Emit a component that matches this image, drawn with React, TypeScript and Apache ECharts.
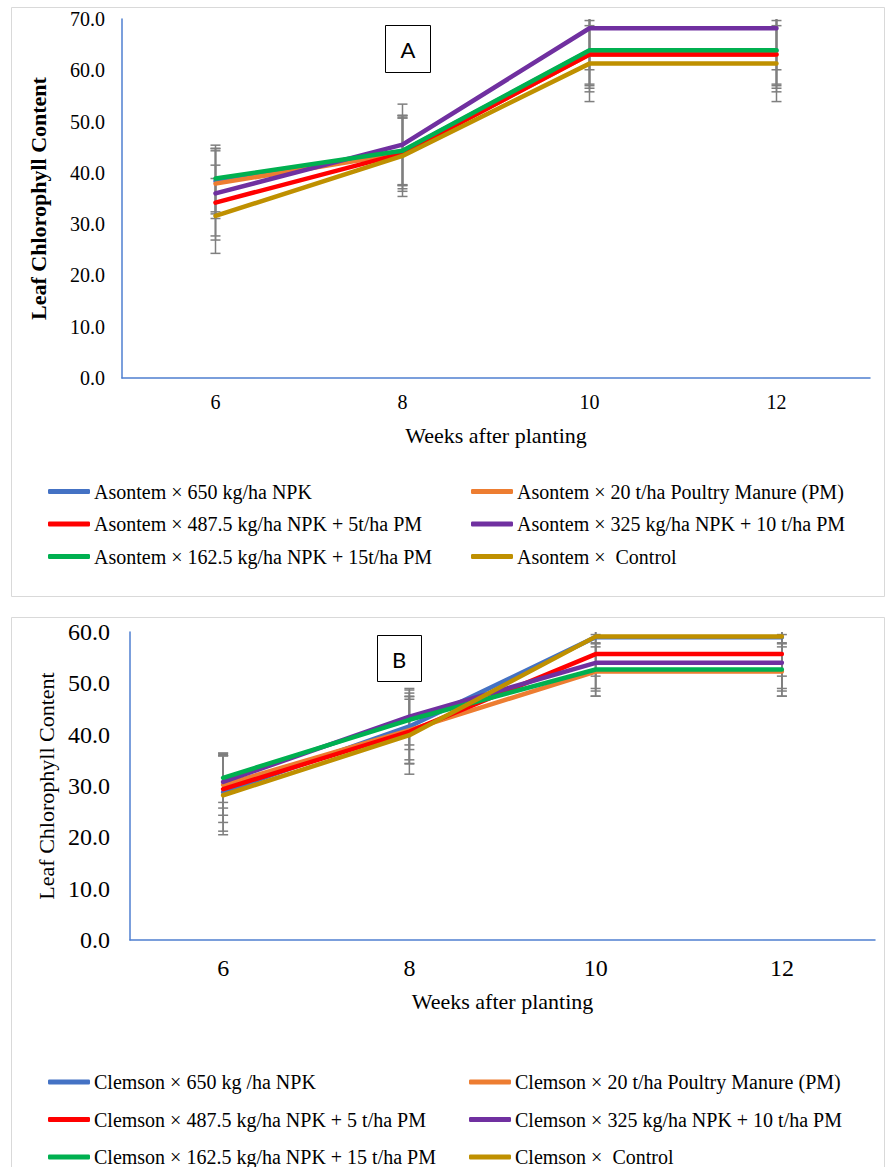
import React, { useEffect, useRef } from "react";
import * as echarts from "echarts";

// Sampling weeks (x axis categories)
const weeks = ["6", "8", "10", "12"];

// Panel A – Asontem: mean leaf chlorophyll content per treatment
const asontemNames = [
  "Asontem × 650 kg/ha NPK",
  "Asontem × 20 t/ha Poultry Manure (PM)",
  "Asontem × 487.5 kg/ha NPK + 5t/ha PM",
  "Asontem × 325 kg/ha NPK + 10 t/ha PM",
  "Asontem × 162.5 kg/ha NPK + 15t/ha PM",
  "Asontem ×  Control",
];
const asontemNpk = [38.4, 44.2, 63.8, 63.8];
const asontemPm = [37.9, 43.8, 63.1, 63.1];
const asontemNpk487 = [34.2, 43.8, 63.1, 63.1];
const asontemNpk325 = [36.0, 45.5, 68.2, 68.2];
const asontemNpk162 = [38.9, 44.3, 63.9, 63.9];
const asontemControl = [31.6, 43.3, 61.3, 61.3];

// Panel A – standard errors
const asontemNpkErr = [6.4, 6.5, 6.8, 6.8];
const asontemPmErr = [6.8, 6.9, 6.6, 6.6];
const asontemNpk487Err = [7.3, 7.4, 7.3, 7.3];
const asontemNpk325Err = [8.3, 7.9, 8.1, 8.1];
const asontemNpk162Err = [6.5, 6.8, 6.6, 6.6];
const asontemControlErr = [7.3, 7.9, 7.4, 7.4];

// Panel B – Clemson: mean leaf chlorophyll content per treatment
const clemsonNames = [
  "Clemson × 650 kg /ha NPK",
  "Clemson × 20 t/ha Poultry Manure (PM)",
  "Clemson × 487.5 kg/ha NPK + 5 t/ha PM",
  "Clemson × 325 kg/ha NPK + 10 t/ha PM",
  "Clemson × 162.5 kg/ha NPK + 15 t/ha PM",
  "Clemson ×  Control",
];
const clemsonNpk = [28.8, 41.6, 59.0, 59.0];
const clemsonPm = [30.2, 40.9, 52.3, 52.3];
const clemsonNpk487 = [29.4, 40.6, 55.7, 55.7];
const clemsonNpk325 = [30.8, 43.5, 54.0, 54.0];
const clemsonNpk162 = [31.6, 42.9, 52.7, 52.7];
const clemsonControl = [28.2, 39.9, 59.1, 59.1];

// Panel B – standard errors
const clemsonNpkErr = [7.6, 6.5, 7.6, 7.6];
const clemsonPmErr = [5.9, 6.5, 4.8, 4.8];
const clemsonNpk487Err = [6.5, 6.3, 6.7, 6.7];
const clemsonNpk325Err = [5.1, 5.5, 5.5, 5.5];
const clemsonNpk162Err = [4.8, 5.8, 5.2, 5.2];
const clemsonControlErr = [7.7, 7.6, 1.4, 1.4];

const colors = ["#4472C4", "#ED7D31", "#FF0000", "#7030A0", "#00B050", "#BF9000"];
const serif = "Liberation Serif";
const axisBlue = "#4F7FD0";
const errGrey = "#7F7F7F";

const asontemMeans = [asontemNpk, asontemPm, asontemNpk487, asontemNpk325, asontemNpk162, asontemControl];
const asontemErrs = [asontemNpkErr, asontemPmErr, asontemNpk487Err, asontemNpk325Err, asontemNpk162Err, asontemControlErr];
const clemsonMeans = [clemsonNpk, clemsonPm, clemsonNpk487, clemsonNpk325, clemsonNpk162, clemsonControl];
const clemsonErrs = [clemsonNpkErr, clemsonPmErr, clemsonNpk487Err, clemsonNpk325Err, clemsonNpk162Err, clemsonControlErr];

function errorData(means: number[][], errs: number[][]) {
  const out: number[][] = [];
  means.forEach((m, s) => {
    m.forEach((v, i) => {
      out.push([i, v - errs[s][i], v + errs[s][i]]);
    });
  });
  return out;
}

function renderErrorBar(params: any, api: any) {
  const x = api.value(0);
  const lo = api.coord([x, api.value(1)]);
  const hi = api.coord([x, api.value(2)]);
  const hw = 5;
  const style = { stroke: errGrey, lineWidth: 1.5 };
  return {
    type: "group",
    children: [
      { type: "line", shape: { x1: lo[0], y1: lo[1], x2: hi[0], y2: hi[1] }, style },
      { type: "line", shape: { x1: lo[0] - hw, y1: lo[1], x2: lo[0] + hw, y2: lo[1] }, style },
      { type: "line", shape: { x1: hi[0] - hw, y1: hi[1], x2: hi[0] + hw, y2: hi[1] }, style },
    ],
  };
}

function lineSeries(names: string[], means: number[][], idx: number) {
  return names.map((name, s) => ({
    name,
    type: "line",
    xAxisIndex: idx,
    yAxisIndex: idx,
    data: means[s],
    showSymbol: false,
    symbol: "none",
    z: 3,
    lineStyle: { color: colors[s], width: 4.5, cap: "round", join: "round" },
    itemStyle: { color: colors[s] },
  }));
}

function legendBlock(names: string[], left: number, top: number, gap: number) {
  return {
    orient: "vertical",
    left,
    top,
    height: 160,
    data: names,
    icon: "roundRect",
    itemWidth: 42,
    itemHeight: 5,
    itemGap: gap,
    itemStyle: { borderWidth: 0 },
    selectedMode: false,
    padding: 0,
    textStyle: { fontFamily: serif, fontSize: 20, color: "#000", padding: [0, 0, 0, -1] },
  };
}

export default function App() {
  const ref = useRef<HTMLDivElement>(null);

  useEffect(() => {
    if (!ref.current) return;
    const chart = echarts.init(ref.current, undefined, { renderer: "svg" });

    const xAxisBase = (gridIndex: number, fontSize: number, margin: number, nameGap: number) => ({
      gridIndex,
      type: "category",
      data: weeks,
      boundaryGap: true,
      axisLine: { lineStyle: { color: axisBlue, width: 1.5 } },
      axisTick: { show: false },
      axisLabel: { color: "#000", fontSize, fontFamily: serif, margin },
      name: "Weeks after planting",
      nameLocation: "middle",
      nameGap,
      nameTextStyle: { color: "#000", fontSize: 22, fontFamily: serif },
    });

    const yAxisBase = (
      gridIndex: number,
      max: number,
      fontSize: number,
      margin: number,
      nameGap: number,
      bold: boolean
    ) => ({
      gridIndex,
      type: "value",
      min: 0,
      max,
      interval: 10,
      axisLine: { show: true, lineStyle: { color: axisBlue, width: 1.5 } },
      axisTick: { show: false },
      splitLine: { show: false },
      axisLabel: {
        color: "#000",
        fontSize,
        fontFamily: serif,
        margin,
        formatter: (v: number) => v.toFixed(1),
      },
      name: "Leaf Chlorophyll Content",
      nameLocation: "middle",
      nameRotate: 90,
      nameGap,
      nameTextStyle: {
        color: "#000",
        fontSize: 22,
        fontFamily: serif,
        fontWeight: bold ? "bold" : "normal",
      },
    });

    const option: any = {
      animation: false,
      backgroundColor: "#fff",
      textStyle: { fontFamily: serif },
      grid: [
        { left: 122, top: 19, width: 748, height: 359 },
        { left: 130, top: 632, width: 745, height: 308 },
      ],
      xAxis: [xAxisBase(0, 20, 14, 46), xAxisBase(1, 24, 16, 50)],
      yAxis: [yAxisBase(0, 70, 20, 17, 73, true), yAxisBase(1, 60, 24, 20, 72, false)],
      legend: [
        legendBlock([asontemNames[0], asontemNames[2], asontemNames[4]], 48, 481.5, 12.5),
        legendBlock([asontemNames[1], asontemNames[3], asontemNames[5]], 471, 481.5, 12.5),
        legendBlock([clemsonNames[0], clemsonNames[2], clemsonNames[4]], 48, 1072, 17.5),
        legendBlock([clemsonNames[1], clemsonNames[3], clemsonNames[5]], 469, 1072, 17.5),
      ],
      series: [
        {
          type: "custom",
          name: "errA",
          xAxisIndex: 0,
          yAxisIndex: 0,
          clip: true,
          z: 2,
          renderItem: renderErrorBar,
          encode: { x: 0, y: [1, 2] },
          data: errorData(asontemMeans, asontemErrs),
        },
        {
          type: "custom",
          name: "errB",
          xAxisIndex: 1,
          yAxisIndex: 1,
          clip: true,
          z: 2,
          renderItem: renderErrorBar,
          encode: { x: 0, y: [1, 2] },
          data: errorData(clemsonMeans, clemsonErrs),
        },
        ...lineSeries(asontemNames, asontemMeans, 0),
        ...lineSeries(clemsonNames, clemsonMeans, 1),
      ],
      graphic: [
        // panel frames
        {
          type: "rect",
          shape: { x: 11.5, y: 7.5, width: 873, height: 589 },
          style: { fill: "none", stroke: "#D9D9D9", lineWidth: 1 },
          silent: true,
        },
        {
          type: "rect",
          shape: { x: 11.5, y: 617.5, width: 873, height: 560 },
          style: { fill: "none", stroke: "#D9D9D9", lineWidth: 1 },
          silent: true,
        },
        // panel tags
        {
          type: "rect",
          shape: { x: 385.5, y: 25.5, width: 45, height: 47 },
          style: { fill: "#fff", stroke: "#000", lineWidth: 1 },
          z: 10,
        },
        {
          type: "text",
          x: 408,
          y: 49,
          z: 11,
          style: {
            text: "A",
            fill: "#000",
            font: "22px Lato, sans-serif",
            align: "center",
            verticalAlign: "middle",
          },
        },
        {
          type: "rect",
          shape: { x: 377.5, y: 635.5, width: 44, height: 46 },
          style: { fill: "#fff", stroke: "#000", lineWidth: 1 },
          z: 10,
        },
        {
          type: "text",
          x: 399,
          y: 659,
          z: 11,
          style: {
            text: "B",
            fill: "#000",
            font: "22px Lato, sans-serif",
            align: "center",
            verticalAlign: "middle",
          },
        },
      ],
    };

    chart.setOption(option);
    return () => chart.dispose();
  }, []);

  return (
    <div
      ref={ref}
      style={{ position: "absolute", left: 0, top: 0, width: 887, height: 1167, background: "#fff" }}
    />
  );
}
